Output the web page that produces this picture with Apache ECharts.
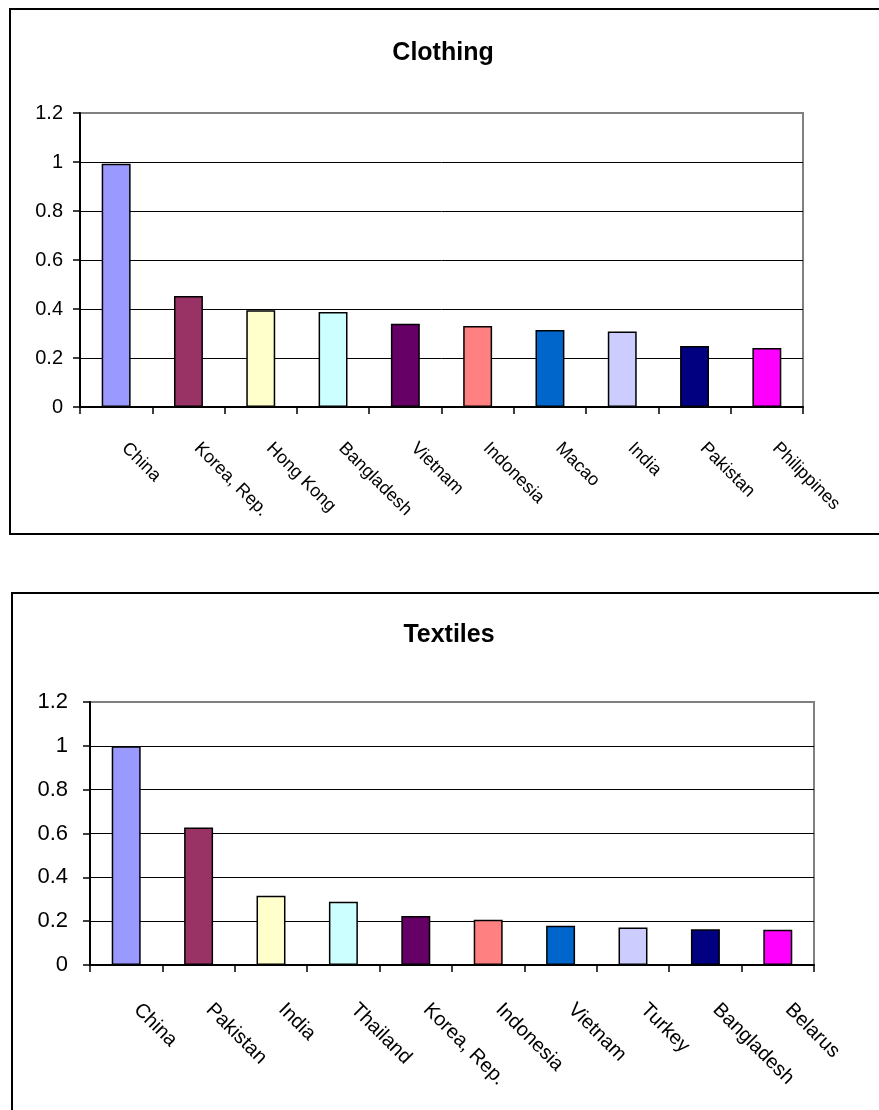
<!DOCTYPE html>
<html>
<head>
<meta charset="utf-8">
<script src="https://cdn.jsdelivr.net/npm/echarts@6/dist/echarts.min.js"></script>
<style>
  html, body { margin: 0; padding: 0; background: #ffffff; }
  #chart { width: 879px; height: 1110px; }
</style>
</head>
<body>
<div id="chart"></div>
<script>
// Clothing exporters (relative index)
const clothingCountries = ['China', 'Korea, Rep.', 'Hong Kong', 'Bangladesh', 'Vietnam', 'Indonesia', 'Macao', 'India', 'Pakistan', 'Philippines'];
const clothingValues = [0.993, 0.453, 0.395, 0.388, 0.340, 0.331, 0.314, 0.308, 0.249, 0.241];

// Textiles exporters (relative index)
const textilesCountries = ['China', 'Pakistan', 'India', 'Thailand', 'Korea, Rep.', 'Indonesia', 'Vietnam', 'Turkey', 'Bangladesh', 'Belarus'];
const textilesValues = [0.998, 0.627, 0.316, 0.289, 0.224, 0.207, 0.179, 0.171, 0.163, 0.161];

// Value axis scale
const axisMin = 0;
const axisMax = 1.2;
const axisStep = 0.2;

// One fill per bar position
const barColors = ['#9999FF', '#993366', '#FFFFCC', '#CCFFFF', '#660066', '#FF8080', '#0066CC', '#CCCCFF', '#000080', '#FF00FF'];

const titles = ['Clothing', 'Textiles'];

const chart = echarts.init(document.getElementById('chart'), null, { renderer: 'canvas' });

const sansFont = "'Liberation Sans', Arial, sans-serif";

function barData(values) {
  return values.map((v, i) => ({
    value: v,
    itemStyle: { color: barColors[i % barColors.length] }
  }));
}

function valueAxis(gridIndex, labelSize, labelMargin) {
  return {
    type: 'value',
    gridIndex: gridIndex,
    min: axisMin,
    max: axisMax,
    interval: axisStep,
    axisLine: { show: true, lineStyle: { color: '#000', width: 2 } },
    axisTick: { show: true, inside: false, length: 7, lineStyle: { color: '#000', width: 1.5 } },
    axisLabel: {
      color: '#000',
      fontFamily: sansFont,
      fontSize: labelSize,
      margin: labelMargin,
      formatter: v => String(+v.toFixed(1))
    },
    splitLine: {
      show: true,
      showMinLine: false,
      showMaxLine: false,
      lineStyle: { color: '#000', width: 1 }
    }
  };
}

function categoryAxis(gridIndex, data, labelSize, labelMargin, lead) {
  return {
    type: 'category',
    gridIndex: gridIndex,
    data: data,
    boundaryGap: true,
    axisLine: { show: true, lineStyle: { color: '#000', width: 2 } },
    axisTick: { show: true, interval: 0, length: 7, lineStyle: { color: '#000', width: 1.5 } },
    axisLabel: {
      interval: 0,
      rotate: -45,
      color: '#000',
      fontFamily: sansFont,
      fontSize: labelSize,
      margin: labelMargin,
      padding: [0, 0, 0, lead]
    },
    splitLine: { show: false }
  };
}

const option = {
  animation: false,
  backgroundColor: '#ffffff',
  title: [
    {
      text: titles[0],
      left: 438,
      top: 36,
      textAlign: 'center',
      textStyle: { fontFamily: sansFont, fontWeight: 'bold', fontSize: 25, color: '#000' }
    },
    {
      text: titles[1],
      left: 444,
      top: 618,
      textAlign: 'center',
      textStyle: { fontFamily: sansFont, fontWeight: 'bold', fontSize: 25, color: '#000' }
    }
  ],
  graphic: [
    {
      type: 'rect',
      silent: true,
      shape: { x: 10, y: 9, width: 900, height: 525 },
      style: { fill: 'none', stroke: '#000', lineWidth: 2 }
    },
    {
      type: 'rect',
      silent: true,
      shape: { x: 12, y: 593, width: 900, height: 600 },
      style: { fill: 'none', stroke: '#000', lineWidth: 2 }
    }
  ],
  grid: [
    {
      left: 80, top: 113, width: 723, height: 294,
      show: true, borderColor: '#808080', borderWidth: 2, backgroundColor: 'transparent',
      containLabel: false
    },
    {
      left: 90, top: 702, width: 724, height: 263,
      show: true, borderColor: '#808080', borderWidth: 2, backgroundColor: 'transparent',
      containLabel: false
    }
  ],
  xAxis: [
    categoryAxis(0, clothingCountries, 18, 30, 12),
    categoryAxis(1, textilesCountries, 20, 31, 15)
  ],
  yAxis: [
    valueAxis(0, 20, 17),
    valueAxis(1, 22, 22)
  ],
  series: [
    {
      type: 'bar',
      name: titles[0],
      xAxisIndex: 0,
      yAxisIndex: 0,
      barWidth: '40%',
      data: barData(clothingValues),
      itemStyle: { borderColor: '#000', borderWidth: 1.5 },
      emphasis: { disabled: true }
    },
    {
      type: 'bar',
      name: titles[1],
      xAxisIndex: 1,
      yAxisIndex: 1,
      barWidth: '40%',
      data: barData(textilesValues),
      itemStyle: { borderColor: '#000', borderWidth: 1.5 },
      emphasis: { disabled: true }
    }
  ]
};

chart.setOption(option);
</script>
</body>
</html>
